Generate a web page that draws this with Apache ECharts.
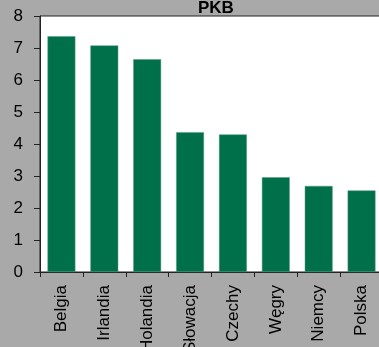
<!DOCTYPE html>
<html>
<head>
<meta charset="utf-8">
<script src="https://cdn.jsdelivr.net/npm/echarts@6/dist/echarts.min.js"></script>
<style>
  html, body { margin: 0; padding: 0; background: #a9a9a9; }
  #chart { width: 379px; height: 347px; }
</style>
</head>
<body>
<div id="chart"></div>
<script>
// GDP growth by country (%)
const countries = ['Belgia', 'Irlandia', 'Holandia', 'Słowacja', 'Czechy', 'Węgry', 'Niemcy', 'Polska'];
const gdpValues = [7.37, 7.08, 6.65, 4.37, 4.30, 2.96, 2.69, 2.55];
const yTicks = [0, 1, 2, 3, 4, 5, 6, 7, 8];

const chart = echarts.init(document.getElementById('chart'), null, { renderer: 'canvas' });

chart.setOption({
  backgroundColor: '#a9a9a9',
  animation: false,
  title: {
    text: 'PKB',
    left: 193,
    top: -5,
    textStyle: {
      fontFamily: 'Liberation Sans, Arial, sans-serif',
      fontSize: 17,
      fontWeight: 'bold',
      color: '#000'
    }
  },
  grid: {
    left: 40,
    right: -4,
    top: 16,
    bottom: 75,
    outerBoundsMode: 'none',
    containLabel: false,
    show: true,
    backgroundColor: '#ffffff',
    borderColor: '#222',
    borderWidth: 1
  },
  xAxis: {
    type: 'category',
    data: countries,
    axisLine: { lineStyle: { color: '#222', width: 1 } },
    axisTick: { show: true, inside: false, length: 5, alignWithLabel: false, lineStyle: { color: '#222' } },
    axisLabel: {
      rotate: 90,
      margin: 13,
      interval: 0,
      fontFamily: 'Liberation Sans, Arial, sans-serif',
      fontSize: 17,
      color: '#000'
    }
  },
  yAxis: {
    type: 'value',
    min: yTicks[0],
    max: yTicks[yTicks.length - 1],
    interval: 1,
    splitLine: { show: false },
    axisLine: { show: true, lineStyle: { color: '#222', width: 1 } },
    axisTick: { show: true, inside: false, length: 6, lineStyle: { color: '#222' } },
    axisLabel: {
      margin: 17,
      fontFamily: 'Liberation Sans, Arial, sans-serif',
      fontSize: 17,
      color: '#000'
    }
  },
  series: [{
    type: 'bar',
    data: gdpValues,
    barCategoryGap: '35%',
    itemStyle: {
      color: '#00704a',
      borderColor: '#5a9c80',
      borderWidth: 0.5
    }
  }]
});
</script>
</body>
</html>
